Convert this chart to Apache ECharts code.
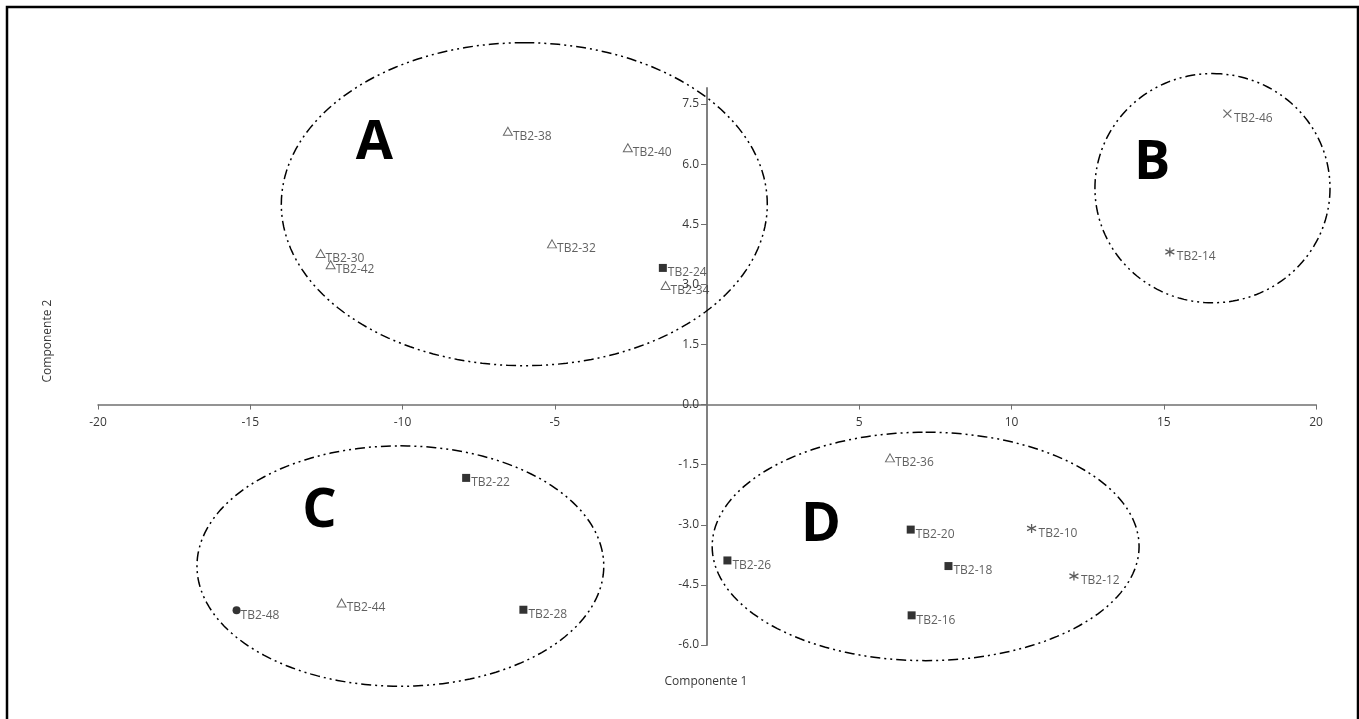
<!DOCTYPE html>
<html>
<head>
<meta charset="utf-8">
<script src="https://cdn.jsdelivr.net/npm/echarts@6/dist/echarts.min.js"></script>
<style>
html,body{margin:0;padding:0;background:#fff;}
#chart{width:1359px;height:719px;}
</style>
</head>
<body>
<div id="chart"></div>
<script>
// ---- Data ----
var trianglePoints = [
  ['TB2-38', -6.54, 6.82],
  ['TB2-40', -2.60, 6.41],
  ['TB2-30', -12.69, 3.77],
  ['TB2-42', -12.36, 3.49],
  ['TB2-32', -5.09, 4.01],
  ['TB2-34', -1.36, 2.97],
  ['TB2-44', -12.00, -4.95],
  ['TB2-36', 6.01, -1.33]
];
var squarePoints = [
  ['TB2-24', -1.45, 3.41],
  ['TB2-22', -7.91, -1.83],
  ['TB2-28', -6.03, -5.12],
  ['TB2-20', 6.69, -3.12],
  ['TB2-26', 0.67, -3.89],
  ['TB2-18', 7.93, -4.03],
  ['TB2-16', 6.72, -5.26]
];
var circlePoints = [
  ['TB2-48', -15.45, -5.13]
];
var asteriskPoints = [
  ['TB2-14', 15.20, 3.81],
  ['TB2-10', 10.66, -3.09],
  ['TB2-12', 12.05, -4.28]
];
var crossPoints = [
  ['TB2-46', 17.09, 7.26]
];
// group ellipses: [label, centerX, centerY, radiusX, radiusY, letterX, letterY]
var groups = [
  ['A', -6.0, 5.0, 7.98, 4.03, -10.92, 6.5],
  ['B', 16.6, 5.4, 3.86, 2.86, 14.62, 6.01],
  ['C', -10.07, -4.03, 6.68, 3.0, -12.73, -2.66],
  ['D', 7.18, -3.54, 7.01, 2.85, 3.74, -3.03]
];
var xTicks = [-20, -15, -10, -5, 5, 10, 15, 20];
var yTicks = [-6, -4.5, -3, -1.5, 0, 1.5, 3, 4.5, 6, 7.5];
var xRange = [-20, 20];
var yRange = [-6, 7.9];

function toData(arr) {
  return arr.map(function (p) { return { name: p[0], value: [p[1], p[2]] }; });
}

var labelCfg = {
  show: true,
  position: 'right',
  distance: 0,
  offset: [0, 5],
  formatter: '{b}',
  color: '#383838',
  fontSize: 12,
  fontFamily: 'Open Sans'
};

var chart = echarts.init(document.getElementById('chart'));
var option = {
  animation: false,
  backgroundColor: '#ffffff',
  grid: { left: 98, right: 43, top: 88, bottom: 74 },
  xAxis: {
    type: 'value',
    position: 'bottom',
    offset: 0,
    min: xRange[0], max: xRange[1],
    splitLine: { show: false },
    axisLine: { onZero: false, lineStyle: { color: '#707070', width: 1.5 } },
    axisTick: { show: true, length: 5, customValues: xTicks, lineStyle: { color: '#707070', width: 1 } },
    axisLabel: {
      customValues: xTicks, margin: 12,
      color: '#383838', fontSize: 12, fontFamily: 'Open Sans'
    }
  },
  yAxis: {
    type: 'value',
    position: 'left',
    offset: 0,
    min: yRange[0], max: yRange[1],
    splitLine: { show: false },
    axisLine: { onZero: false, lineStyle: { color: '#808080', width: 2 } },
    axisTick: { show: true, length: 6, customValues: yTicks, lineStyle: { color: '#707070', width: 1 } },
    axisLabel: {
      customValues: yTicks, margin: 8,
      color: '#383838', fontSize: 12, fontFamily: 'Open Sans',
      formatter: function (v) { return Number(v).toFixed(1); }
    }
  },
  graphic: [
    { type: 'rect', shape: { x: 7, y: 7, width: 1351, height: 740 },
      style: { fill: 'none', stroke: '#000', lineWidth: 2.5 }, silent: true },
    { type: 'text', x: 706, y: 682,
      style: { text: 'Componente 1', fill: '#383838', fontSize: 12, fontFamily: 'Open Sans',
               align: 'center', verticalAlign: 'middle' } },
    { type: 'text', x: 48, y: 341, rotation: Math.PI / 2,
      style: { text: 'Componente 2', fill: '#383838', fontSize: 12, fontFamily: 'Open Sans',
               align: 'center', verticalAlign: 'middle' } }
  ],
  series: [
    {
      type: 'custom',
      clip: false,
      silent: true,
      data: groups.map(function (g) { return g.slice(1).concat([g[0]]); }),
      renderItem: function (params, api) {
        var c = api.coord([api.value(0), api.value(1)]);
        var s = api.size([api.value(2), api.value(3)]);
        var pts = [];
        var n = 180;
        for (var i = 0; i <= n; i++) {
          var t = -Math.PI / 2 + (i / n) * Math.PI * 2;
          pts.push([c[0] + s[0] * Math.cos(t), c[1] + s[1] * Math.sin(t)]);
        }
        var lp = api.coord([api.value(4), api.value(5)]);
        return {
          type: 'group',
          children: [
            { type: 'polyline', shape: { points: pts },
              style: { fill: 'none', stroke: '#000', lineWidth: 1.5, lineDash: [10, 4, 2, 4, 2, 4] } },
            { type: 'text', x: lp[0], y: lp[1],
              style: { text: groups[params.dataIndex][0], fill: '#000', fontSize: 54, fontWeight: 700,
                       fontFamily: 'Open Sans', align: 'center', verticalAlign: 'middle' } }
          ]
        };
      }
    },
    {
      type: 'scatter', name: 'triangles', data: toData(trianglePoints),
      symbol: 'triangle', symbolSize: [9, 8],
      itemStyle: { color: '#ffffff', borderColor: '#444444', borderWidth: 1 },
      label: labelCfg
    },
    {
      type: 'scatter', name: 'squares', data: toData(squarePoints),
      symbol: 'rect', symbolSize: 8,
      itemStyle: { color: '#000000' },
      label: Object.assign({}, labelCfg, { distance: 1 })
    },
    {
      type: 'scatter', name: 'circles', data: toData(circlePoints),
      symbol: 'circle', symbolSize: 8,
      itemStyle: { color: '#000000' },
      label: labelCfg
    },
    {
      type: 'scatter', name: 'asterisks', data: toData(asteriskPoints),
      symbol: 'path://M0,-10 L0,10 M-8.66,-5 L8.66,5 M-8.66,5 L8.66,-5', symbolSize: 9,
      itemStyle: { color: 'none', borderColor: '#333333', borderWidth: 1.3 },
      label: labelCfg
    },
    {
      type: 'scatter', name: 'crosses', data: toData(crossPoints),
      symbol: 'path://M-10,-10 L10,10 M-10,10 L10,-10', symbolSize: 8,
      itemStyle: { color: 'none', borderColor: '#444444', borderWidth: 1.2 },
      label: labelCfg
    }
  ]
};
chart.setOption(option);

// Move both axes onto the zero lines of the other axis, using the library's own scales.
var origin = chart.convertToPixel({ gridIndex: 0 }, [0, 0]);
var bottomLeft = chart.convertToPixel({ gridIndex: 0 }, [xRange[0], yRange[0]]);
chart.setOption({
  xAxis: { offset: origin[1] - bottomLeft[1] },
  yAxis: { offset: bottomLeft[0] - origin[0] }
});
</script>
</body>
</html>
